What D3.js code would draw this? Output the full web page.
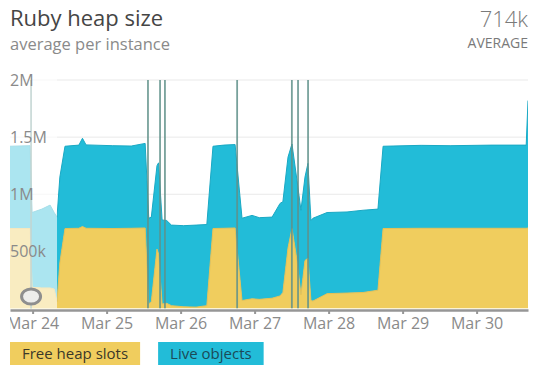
<!DOCTYPE html>
<html>
<head>
<meta charset="utf-8">
<script src="https://cdn.jsdelivr.net/npm/d3@7"></script>
<style>
  body { margin: 0; background: #fff; font-family: "Open Sans", sans-serif; }
</style>
</head>
<body>
<svg id="chart" width="540" height="374"></svg>
<script>
// sample times (year 2015), values in thousands
const times = [
  "03-23 16:40", "03-23 23:10", "03-23 23:50", "03-24 03:00", "03-24 05:40", "03-24 07:00",
  "03-24 07:55", "03-24 08:50", "03-24 10:30", "03-24 15:00", "03-24 16:10", "03-24 17:20",
  "03-25 02:00", "03-25 08:00", "03-25 12:30", "03-25 13:40", "03-25 14:30", "03-25 16:20",
  "03-25 16:50", "03-25 18:00", "03-25 19:30", "03-25 21:00", "03-26 01:00", "03-26 05:00",
  "03-26 08:30", "03-26 10:30", "03-26 14:00", "03-26 17:40", "03-26 19:55", "03-26 23:10",
  "03-27 01:30", "03-27 05:40", "03-27 08:15", "03-27 09:10", "03-27 10:50", "03-27 12:07",
  "03-27 13:45", "03-27 15:02", "03-27 16:20", "03-27 17:18", "03-27 18:16", "03-27 18:55",
  "03-27 23:30", "03-28 05:58", "03-28 11:10", "03-28 16:00", "03-28 17:40", "03-29 06:00",
  "03-29 15:24", "03-30 05:00", "03-30 16:05", "03-30 16:40"
];
const freeSlots = [
  700, 700, 185, 180, 180, 170,
  60, 400, 700, 702, 718, 702,
  700, 702, 705, 40, 60, 520,
  480, 40, 45, 25, 15, 12,
  25, 700, 702, 705, 70, 85,
  80, 90, 110, 140, 530, 700,
  420, 120, 420, 440, 70, 65,
  130, 135, 140, 160, 700, 702,
  702, 702, 702, 705
];
const liveObjects = [
  720, 725, 655, 690, 725, 670,
  740, 750, 720, 728, 772, 730,
  725, 720, 740, 750, 740, 730,
  795, 735, 725, 705, 710, 718,
  710, 720, 728, 730, 720, 730,
  715, 710, 810, 795, 795, 740,
  700, 740, 730, 830, 700, 725,
  710, 710, 720, 710, 720, 726,
  723, 728, 728, 1115
];
// short bursts that run off the top of the chart
const spikeTimes = ["03-23 23:30", "03-25 13:25", "03-25 17:20", "03-25 18:55",
                    "03-26 18:20", "03-27 12:05", "03-27 14:05", "03-27 17:20"];
const domainTimes = ["03-23 16:40", "03-30 16:40"];
const fadeEnd = "03-24 07:55";
const cursorTime = "03-23 23:30";
const xTickDates = ["03-24 00:00", "03-25 00:00", "03-26 00:00", "03-27 00:00",
                    "03-28 00:00", "03-29 00:00", "03-30 00:00"];
const yTicks = [500000, 1000000, 1500000, 2000000];
const yTickLabels = ["500k", "1M", "1.5M", "2M"];
const seriesKeys = ["free", "live"];
const legendLabels = ["Free heap slots", "Live objects"];

const parseTime = s => d3.timeParse("%Y-%m-%d %H:%M")("2015-" + s);

const data = times.map((t, i) => ({
  date: parseTime(t),
  free: freeSlots[i] * 1000,
  live: liveObjects[i] * 1000
}));

const svg = d3.select("#chart");
const plotLeft = 10, plotRight = 528, plotTop = 80, plotBottom = 308.5;

const x = d3.scaleTime().domain(domainTimes.map(parseTime)).range([plotLeft, plotRight]);
const y = d3.scaleLinear().domain([0, 2000000]).range([plotBottom, plotTop]);

const fillColor = { free: "#f0cd5e", live: "#22bcd8" };
const edgeColor = { free: "#e6c054", live: "#1aa8c3" };

const defs = svg.append("defs");
defs.append("clipPath").attr("id", "plot")
  .append("rect").attr("x", plotLeft).attr("y", plotTop)
  .attr("width", plotRight - plotLeft).attr("height", plotBottom - plotTop);
defs.append("clipPath").attr("id", "xlab")
  .append("rect").attr("x", plotLeft).attr("y", -5).attr("width", 530).attr("height", 40);

// gridlines
svg.append("g").selectAll("line")
  .data(yTicks)
  .join("line")
  .attr("x1", plotLeft).attr("x2", plotRight)
  .attr("y1", d => y(d)).attr("y2", d => y(d))
  .attr("stroke", "#e9e9e9").attr("stroke-width", 1);

// stacked areas
const series = d3.stack().keys(seriesKeys)(data);
const area = d3.area()
  .x(d => x(d.data.date))
  .y0(d => y(d[0]))
  .y1(d => y(d[1]));
const edge = d3.line()
  .x(d => x(d.data.date))
  .y(d => y(d[1]));

const plot = svg.append("g").attr("clip-path", "url(#plot)");
plot.selectAll("path.area")
  .data(series)
  .join("path")
  .attr("class", "area")
  .attr("d", area)
  .attr("fill", s => fillColor[s.key]);
plot.selectAll("path.edge")
  .data(series)
  .join("path")
  .attr("class", "edge")
  .attr("d", edge)
  .attr("fill", "none")
  .attr("stroke", s => edgeColor[s.key])
  .attr("stroke-width", 1);

// spikes
plot.selectAll("line.spike")
  .data(spikeTimes.map(parseTime))
  .join("line")
  .attr("class", "spike")
  .attr("x1", d => x(d)).attr("x2", d => x(d))
  .attr("y1", y(0)).attr("y2", y(2000000))
  .attr("stroke", "#5f918a")
  .attr("stroke-opacity", 0.85)
  .attr("stroke-width", 1.8);

// faded part before the selection
svg.append("rect")
  .attr("x", x(parseTime(domainTimes[0])))
  .attr("y", y(2000000) - 3)
  .attr("width", x(parseTime(fadeEnd)) - x(parseTime(domainTimes[0])))
  .attr("height", y(0) - y(2000000) + 3)
  .attr("fill", "#fff")
  .attr("fill-opacity", 0.62);

// x axis
const xAxis = svg.append("g")
  .attr("transform", `translate(0,${plotBottom + 1.5})`)
  .attr("clip-path", "url(#xlab)")
  .call(d3.axisBottom(x)
    .tickValues(xTickDates.map(parseTime))
    .tickFormat(d3.timeFormat("%b %-d"))
    .tickSize(4)
    .tickSizeOuter(0)
    .tickPadding(4));
xAxis.select(".domain").attr("stroke", "#969696").attr("stroke-width", 2.5);
xAxis.selectAll(".tick line").attr("stroke", "#969696").attr("stroke-width", 2);
xAxis.selectAll(".tick text")
  .attr("fill", "#8a8a8a")
  .style("font-size", "16px")
  .style("font-family", "'Open Sans', sans-serif");

// y labels
svg.append("g").selectAll("text")
  .data(yTicks)
  .join("text")
  .attr("x", plotLeft)
  .attr("y", d => y(d))
  .attr("dy", "0.36em")
  .attr("fill", "#8a8a8a")
  .style("font-size", "16px")
  .text((d, i) => yTickLabels[i]);

// drag knob
svg.append("ellipse")
  .attr("cx", x(parseTime(cursorTime)))
  .attr("cy", y(0) - 12)
  .attr("rx", 9.5).attr("ry", 7.5)
  .attr("fill", "#ededeb")
  .attr("stroke", "#8e8e8e")
  .attr("stroke-width", 3);

// header
svg.append("text").attr("x", 10).attr("y", 26)
  .attr("fill", "#454545").style("font-size", "22px")
  .text("Ruby heap size");
svg.append("text").attr("x", 10).attr("y", 50)
  .attr("fill", "#8a8a8a").style("font-size", "16.5px")
  .text("average per instance");
svg.append("text").attr("x", 528).attr("y", 27).attr("text-anchor", "end")
  .attr("fill", "#7a7a7a").style("font-size", "22px").style("font-weight", 300)
  .text("714k");
svg.append("text").attr("x", 528).attr("y", 48).attr("text-anchor", "end")
  .attr("fill", "#7a7a7a").style("font-size", "14px")
  .text("AVERAGE");

// legend
const textColor = { free: "#3b3829", live: "#1b4a57" };
let lx = 10;
seriesKeys.forEach((k, i) => {
  const g = svg.append("g");
  const rect = g.append("rect").attr("x", lx).attr("y", 342).attr("height", 23)
    .attr("fill", fillColor[k]);
  const t = g.append("text").attr("x", lx + 12).attr("y", 358.5)
    .attr("fill", textColor[k]).style("font-size", "15px")
    .text(legendLabels[i]);
  const w = t.node().getComputedTextLength() + 24;
  rect.attr("width", w);
  lx += w + 18;
});
</script>
</body>
</html>
